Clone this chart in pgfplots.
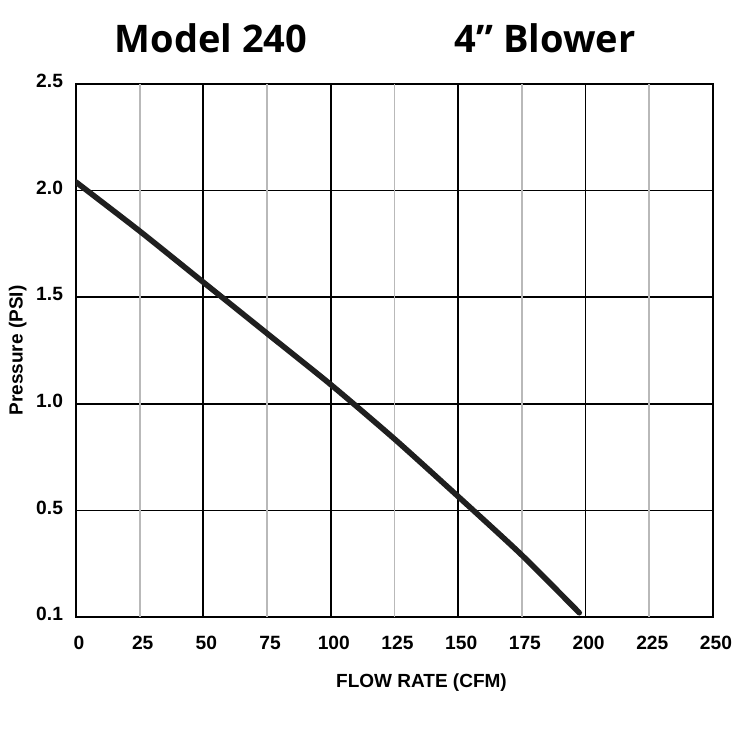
\documentclass[border=0pt]{standalone}
\usepackage{fontspec}
\setmainfont{Liberation Sans}
\newfontfamily\titlefont{Open Sans}
\usepackage{pgfplots}
\usetikzlibrary{calc}
\pgfplotsset{compat=1.18}

\begin{document}
\begin{tikzpicture}
\begin{axis}[
  scale only axis, width=318.5pt, height=266.5pt,
  xmin=0, xmax=250, ymin=0, ymax=2.5,
  xtick={0,50,...,250}, ytick={0,0.5,...,2.5},
  yticklabels={0.1,0.5,1.0,1.5,2.0,2.5},
  extra x ticks={25,75,...,225},
  extra x tick style={major grid style={gray!55, line width=0.9pt}},
  grid=major, major grid style={black, line width=0.9pt},
  axis line style={black, line width=1pt},
  major tick length=0pt,
  /pgf/number format/assume math mode=true,
  tick label style={font=\fontsize{9.6}{11}\selectfont\bfseries},
  xticklabel style={yshift=-6pt, xshift=1.5pt},
  yticklabel style={xshift=-3pt, yshift=1.5pt},
  xlabel={FLOW RATE (CFM)}, ylabel={Pressure (PSI)},
  label style={font=\fontsize{9.5}{11}\selectfont\bfseries},
  xlabel style={yshift=-5pt, xshift=13.5pt},
  ylabel style={yshift=-2pt},
]
\addplot[black!88, line width=2.8pt, line cap=round, smooth, tension=0.4] coordinates {
  (0,2.04) (25,1.81) (50,1.57) (75,1.33) (100,1.09) (125,0.835)
  (150,0.565) (175,0.29) (197.5,0.02)};
\end{axis}
\node[font=\titlefont\bfseries\fontsize{19}{22}\selectfont, anchor=base]
  at ($(current axis.north west)+(67.5pt,15.5pt)$) {Model 240};
\node[font=\titlefont\bfseries\fontsize{19}{22}\selectfont, anchor=base]
  at ($(current axis.north west)+(234.5pt,15.5pt)$) {4” Blower};
\pgfresetboundingbox
\path (current axis.south west) ++(-38pt,-66.5pt) coordinate (bl);
\path (current axis.north east) ++(18.5pt,42pt) coordinate (tr);
\useasboundingbox (bl) rectangle (tr);
\end{tikzpicture}
\end{document}
